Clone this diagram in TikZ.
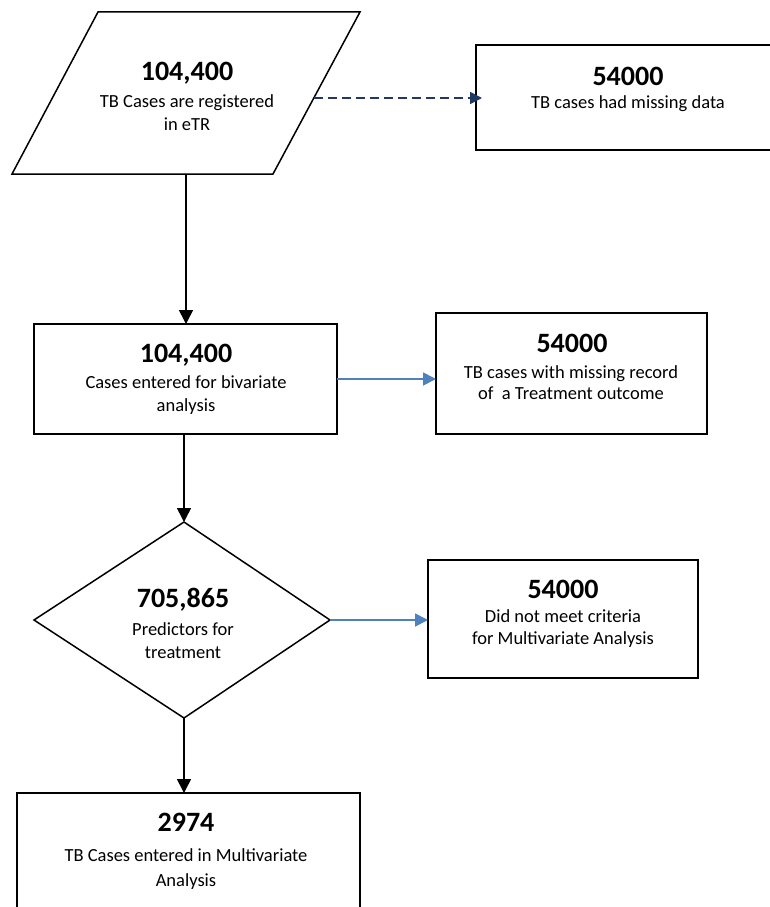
\documentclass[tikz,border=0pt]{standalone}
\usepackage{fontspec}
\setmainfont{Carlito}
\usetikzlibrary{arrows.meta,calc}
\definecolor{navyline}{HTML}{1F3864}
\definecolor{officeblue}{HTML}{4F81BD}
\tikzset{
  shapeline/.style={draw=black, line width=1.5pt},
  boxnode/.style={shapeline, rectangle, inner sep=0pt, outer sep=0pt},
  numtxt/.style={font=\fontsize{28}{32}\selectfont\bfseries, inner sep=0pt},
  bodytxt/.style={font=\fontsize{18.5}{23}\selectfont, align=center, inner sep=0pt},
  blackarrow/.style={draw=black, line width=1.6pt, -{Triangle[width=14pt,length=14pt]}},
  bluearrow/.style={draw=officeblue, line width=1.8pt, -{Triangle[width=13pt,length=13pt]}},
  navyarrow/.style={draw=navyline, line width=1.6pt, dash pattern=on 9pt off 5pt, -{Triangle[width=12pt,length=12pt]}}
}
\begin{document}
\begin{tikzpicture}[x=1pt,y=-1pt]
\useasboundingbox (0,0) rectangle (770,907);
% parallelogram
\coordinate (ptl) at (98,12);
\coordinate (ptr) at (360,12);
\coordinate (pbr) at (273,174);
\coordinate (pbl) at (12,174);
\draw[shapeline, line join=miter] (ptl) -- (ptr) -- (pbr) -- (pbl) -- cycle;
\coordinate (pbot) at (186,174);
\coordinate (pright) at (313.8,98);
\node[numtxt] (pnum) at (187,73) {104,400};
\node[bodytxt] (pbody) at (187,112.5) {TB Cases are registered\\in eTR};
% box 1
\node[boxnode, minimum width=305pt, minimum height=105pt] (b1) at (628.5,97.5) {};
\node[numtxt] (b1num) at (628,76) {54000};
\node[bodytxt] (b1body) at (628,104) {TB cases had missing data};
% box 2
\node[boxnode, minimum width=303pt, minimum height=110pt] (b2) at (185.5,379) {};
\node[numtxt] (b2num) at (186,355) {104,400};
\node[bodytxt] (b2body) at (186,395) {Cases entered for bivariate\\analysis};
% box 3
\node[boxnode, minimum width=271pt, minimum height=121pt] (b3) at (571.5,373.5) {};
\node[numtxt] (b3num) at (572,343) {54000};
\node[bodytxt, font=\fontsize{18.5}{21.5}\selectfont] (b3body) at (571,382.5) {TB cases with missing record\\of\ \ a Treatment outcome};
% diamond
\coordinate (dtop) at (184,522);
\coordinate (dright) at (330,620);
\coordinate (dbot) at (184,718);
\coordinate (dleft) at (34,620);
\draw[shapeline, line join=miter] (dtop) -- (dright) -- (dbot) -- (dleft) -- cycle;
\node[numtxt] (dnum) at (183,600) {705,865};
\node[bodytxt] (dbody) at (183,640.5) {Predictors for\\treatment};
% box 4
\node[boxnode, minimum width=270pt, minimum height=118pt] (b4) at (563,619) {};
\node[numtxt] (b4num) at (563,589) {54000};
\node[bodytxt, font=\fontsize{18.5}{22}\selectfont] (b4body) at (563,629) {Did not meet criteria\\for Multivariate Analysis};
% box 5
\node[boxnode, minimum width=343pt, minimum height=130pt] (b5) at (188.5,858) {};
\node[numtxt] (b5num) at (186,822) {2974};
\node[bodytxt, font=\fontsize{18.5}{25}\selectfont] (b5body) at (186,869.5) {TB Cases entered in Multivariate\\Analysis};
% connectors
\draw[blackarrow] (pbot) -- (pbot |- b2.north);
\draw[blackarrow] (b2.south -| dtop) -- (dtop);
\draw[blackarrow] (dbot) -- (dbot |- b5.north);
\draw[navyarrow, shorten >=-6pt] (pright) -- (pright -| b1.west);
\draw[bluearrow] (b2.east) -- (b2.east -| b3.west);
\draw[bluearrow] (dright) -- (dright -| b4.west);
\end{tikzpicture}
\end{document}
